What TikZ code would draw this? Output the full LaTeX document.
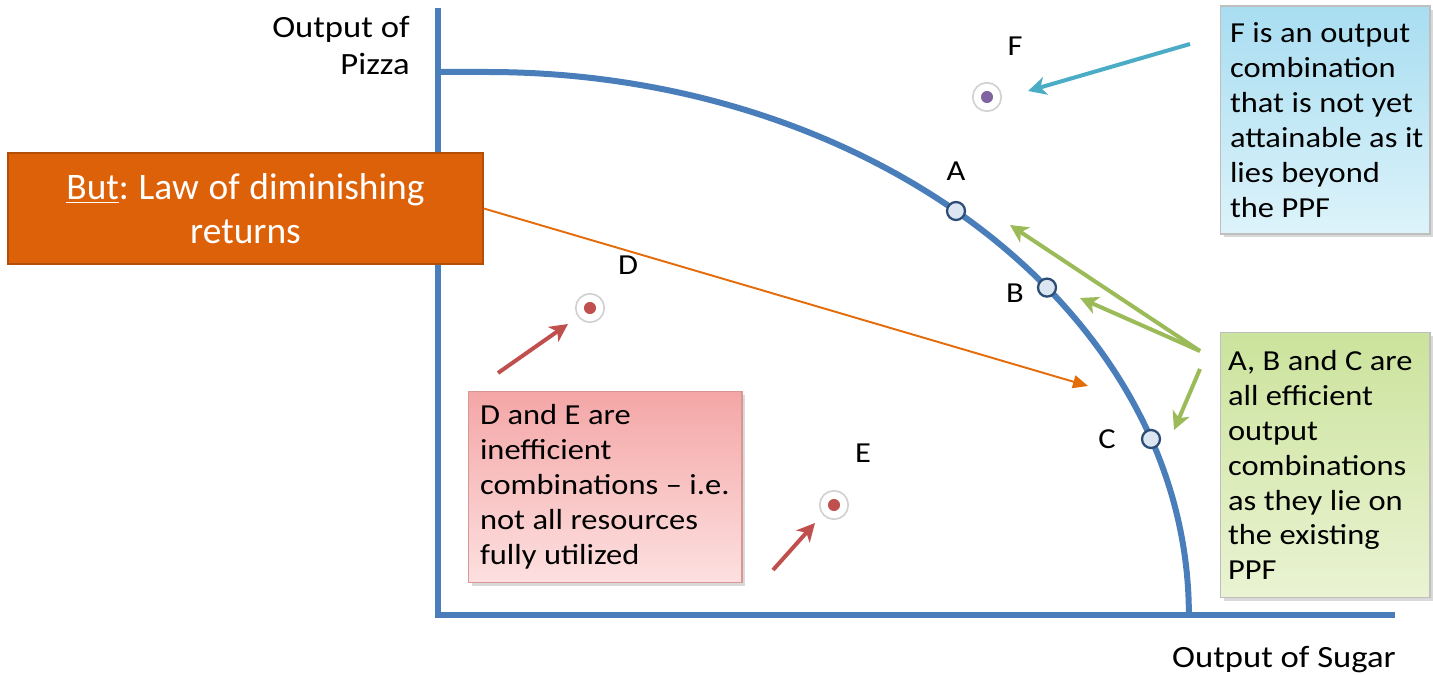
\documentclass[tikz,border=0pt]{standalone}
\usepackage{fontspec}
\setmainfont{Carlito}[FakeStretch=1.12]
\newfontfamily\plainfont{Carlito}
\usetikzlibrary{arrows.meta,shadows}
\definecolor{axisblue}{HTML}{4A7EBB}
\definecolor{ptborder}{HTML}{2C4D75}
\definecolor{ptfill}{HTML}{DCE6F2}
\definecolor{dotred}{HTML}{C0504D}
\definecolor{dotpurple}{HTML}{8064A2}
\definecolor{arrred}{HTML}{C0504D}
\definecolor{arrteal}{HTML}{4BACC6}
\definecolor{arrgreen}{HTML}{9BBB59}
\definecolor{arrorange}{HTML}{E46C0A}
\definecolor{orangefill}{HTML}{DD6108}
\definecolor{orangeborder}{HTML}{B24E06}
\definecolor{bluetop}{HTML}{A8DDF1}
\definecolor{bluebot}{HTML}{DDF3FA}
\definecolor{greentop}{HTML}{CBE39C}
\definecolor{greenbot}{HTML}{EAF3D3}
\definecolor{pinktop}{HTML}{F4A6A6}
\definecolor{pinkbot}{HTML}{FDE0E0}
\newcommand\natsp{\spaceskip=0.26em\xspaceskip=0pt\frenchspacing\relax}
\newcommand\bxl[1]{\mbox{#1}}
\tikzset{
  axisline/.style={draw=axisblue, line width=0.12cm},
  ppfpt/.style={circle, draw=ptborder, fill=ptfill, line width=1.3pt, minimum size=0.36cm, inner sep=0pt},
  dotpt/.style={circle, draw=white, line width=4pt, minimum size=0.39cm, inner sep=0pt,
    preaction={draw=black!18, line width=6pt}},
  ptlabel/.style={font=\fontsize{16.5}{19.9}\selectfont, inner sep=0pt},
  axlabel/.style={font=\fontsize{17.6}{21}\selectfont, inner sep=0pt},
  infobox/.style={draw=black!25, line width=0.6pt, align=left, inner ysep=0pt,
    font=\fontsize{16.5}{19.9}\selectfont,
    drop shadow={opacity=0.3, shadow xshift=2pt, shadow yshift=-2pt}},
  fatarrow/.style={line width=0.08cm, -{Stealth[length=0.36cm, width=0.36cm, inset=0.1cm]}},
  thinarrow/.style={draw=arrorange, line width=1.1pt, -{Triangle[length=0.3cm, width=0.26cm]}}
}
\begin{document}
\begin{tikzpicture}[x=0.02cm, y=-0.02cm]
\useasboundingbox (0,0) rectangle (1433,675);

% axes
\coordinate (yTop) at (438,8);
\coordinate (O) at (438,615);
\coordinate (xEnd) at (1395,615);
\draw[axisline] (yTop) -- (O) -- (xEnd);

% PPF curve
\coordinate (ppfStart) at (440,72);
\coordinate (ppfTop) at (487,72);
\draw[axisline] (ppfStart) -- (ppfTop) arc[start angle=90, end angle=0, x radius=14.04cm, y radius=10.86cm];

% axis labels
\node[axlabel, align=right, anchor=east] (ylab) at (410,45.5) {Output of\\[-0.2pt]Pizza};
\node[axlabel] (xlab) at (1284,660) {Output of Sugar};

% points on the PPF
\node[ppfpt] (A) at (956,211) {};
\node[ppfpt] (B) at (1047,287.6) {};
\node[ppfpt] (C) at (1151,439) {};
\node[ptlabel] (Alab) at (956,171) {A};
\node[ptlabel] (Blab) at (1015,293) {B};
\node[ptlabel] (Clab) at (1107,439) {C};

% other points
\node[dotpt, fill=dotpurple] (F) at (987,97) {};
\node[dotpt, fill=dotred] (D) at (590,308) {};
\node[dotpt, fill=dotred] (E) at (834,505) {};
\node[ptlabel] (Flab) at (1015,46) {F};
\node[ptlabel] (Dlab) at (628,265) {D};
\node[ptlabel] (Elab) at (863,453) {E};

% boxes
\node[infobox, top color=bluetop, bottom color=bluebot, text width=3.8cm, inner xsep=0.2cm, minimum height=4.56cm] (Fbox) at (1325,120)
  {\natsp\bxl{F is an output}\\\bxl{combination}\\\bxl{that is not yet}\\\bxl{attainable as it}\\\bxl{lies beyond}\\\bxl{the PPF}};
\node[infobox, top color=greentop, bottom color=greenbot, text width=3.88cm, inner xsep=0.16cm, minimum height=5.3cm] (ABCbox) at (1325,465)
  {\natsp\bxl{A, B and C are}\\\bxl{all efficient}\\\bxl{output}\\\bxl{combinations}\\\bxl{as they lie on}\\\bxl{the existing}\\\bxl{PPF}};
\node[infobox, top color=pinktop, bottom color=pinkbot, draw=dotred!60, text width=5cm, inner xsep=0.24cm, minimum height=3.82cm] (DEbox) at (605,487)
  {\natsp\bxl{D and E are}\\\bxl{inefficient}\\\bxl{combinations – i.e.}\\\bxl{not all resources}\\\bxl{fully utilized}};
\node[draw=orangeborder, fill=orangefill, line width=1pt, text=white, align=center, text width=9.1cm, inner xsep=0.2cm, inner ysep=0pt, minimum height=2.22cm,
  font=\plainfont\fontsize{21.3}{25}\selectfont] (Law) at (245.5,208.5)
  {\natsp\bxl{\underline{But}: Law of diminishing}\\returns};

% arrows
\coordinate (tF) at (1190,44);
\coordinate (hF) at (1028,91);
\draw[fatarrow, draw=arrteal] (tF) -- (hF);

\coordinate (tAB) at (1200,351);
\coordinate (tC) at (1200,369);
\coordinate (hA) at (1010,225);
\coordinate (hB) at (1080,298);
\coordinate (hC) at (1174,430);
\draw[fatarrow, draw=arrgreen] (tAB) -- (hA);
\draw[fatarrow, draw=arrgreen] (tAB) -- (hB);
\draw[fatarrow, draw=arrgreen] (tC) -- (hC);

\coordinate (tD) at (498,373);
\coordinate (hD) at (568,324);
\coordinate (tE) at (773,570);
\coordinate (hE) at (815,523);
\draw[fatarrow, draw=arrred] (tD) -- (hD);
\draw[fatarrow, draw=arrred] (tE) -- (hE);

\coordinate (hLaw) at (1088,386);
\draw[thinarrow] (Law.east) -- (hLaw);
\end{tikzpicture}
\end{document}
